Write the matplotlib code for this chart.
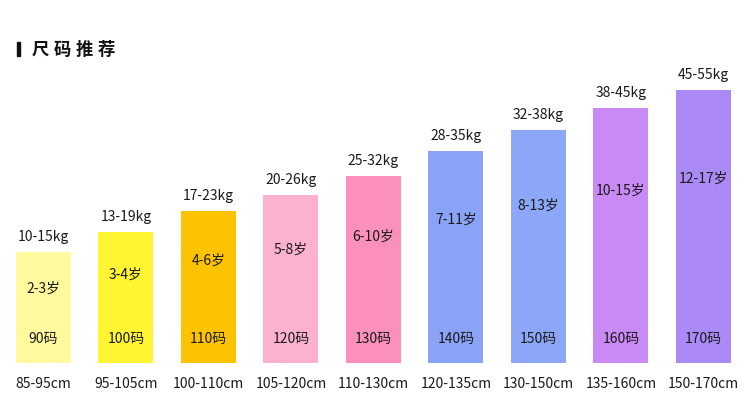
import matplotlib
matplotlib.use("Agg")
import matplotlib.pyplot as plt

plt.rcParams['font.family'] = ['Noto Sans CJK SC', 'DejaVu Sans']

sizes = ["90码", "100码", "110码", "120码", "130码", "140码", "150码", "160码", "170码"]
heights_cm = ["85-95cm", "95-105cm", "100-110cm", "105-120cm", "110-130cm",
              "120-135cm", "130-150cm", "135-160cm", "150-170cm"]
weights = ["10-15kg", "13-19kg", "17-23kg", "20-26kg", "25-32kg",
           "28-35kg", "32-38kg", "38-45kg", "45-55kg"]
ages = ["2-3岁", "3-4岁", "4-6岁", "5-8岁", "6-10岁", "7-11岁", "8-13岁", "10-15岁", "12-17岁"]
values = [111, 131, 152, 168, 187, 212, 233, 255, 273]
colors = ["#FFFA9E", "#FFF533", "#FEC300", "#FCB1CF", "#FC90BD",
          "#8BA3F7", "#8CA7F8", "#C98AF6", "#AB8AF6"]

fig = plt.figure(figsize=(7.5, 4.14), dpi=100)
ax = fig.add_axes([0, 0, 1, 1])
ax.set_xlim(-0.527, 8.564)
ax.set_ylim(-50, 364)
ax.axis('off')

x = list(range(len(values)))
ax.bar(x, values, width=0.667, color=colors, linewidth=0)

tc = "#1a1a1a"
for i, v in enumerate(values):
    ax.text(i, v + 16, weights[i], ha='center', va='center', fontsize=10, color=tc)
    ax.text(i, v * 0.68, ages[i], ha='center', va='center', fontsize=10, color=tc)
    ax.text(i, 25, sizes[i], ha='center', va='center', fontsize=10, color=tc)
    ax.text(i, -20, heights_cm[i], ha='center', va='center', fontsize=10, color=tc)

# title
fig.patches.append(plt.Rectangle((17 / 750, 1 - 57 / 414), 2.5 / 750, 14 / 414,
                                 transform=fig.transFigure, color="#111111"))
title_chars = "尺码推荐"
for k, ch in enumerate(title_chars):
    fig.text((40 + 22 * k) / 750, 1 - 50 / 414, ch, ha='center', va='center',
             fontsize=12.5, color="#111111", fontweight='bold')

fig.savefig("out.png", dpi=100, facecolor='white')
